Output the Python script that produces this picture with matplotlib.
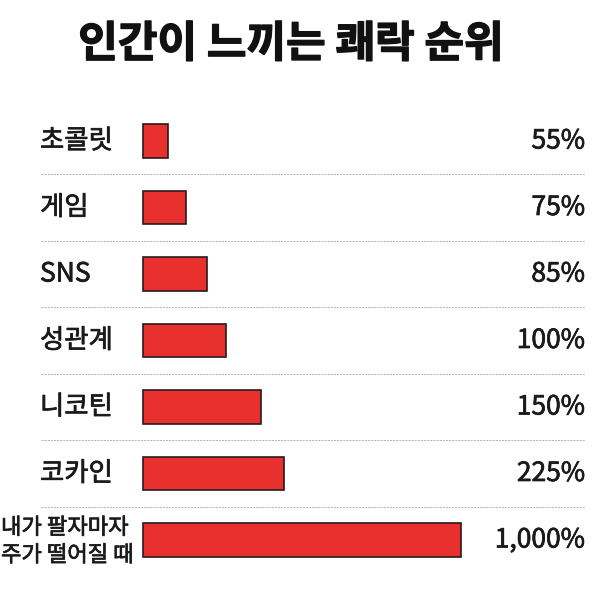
#!/usr/bin/env python3

import matplotlib
matplotlib.use('Agg')
import matplotlib.pyplot as plt
import matplotlib.patheffects as pe

plt.rcParams['font.family'] = ['Noto Sans CJK KR', 'DejaVu Sans']

title = '인간이 느끼는 쾌락 순위'
labels = ['초콜릿', '게임', 'SNS', '성관계', '니코틴', '코카인', '내가 팔자마자\n주가 떨어질 때']
value_labels = ['55%', '75%', '85%', '100%', '150%', '225%', '1,000%']
# drawn bar lengths as they appear in the picture (not proportional to the values)
bar_lengths = [25, 43, 64, 83, 118, 141, 318]


def main():
    fig = plt.figure(figsize=(6, 5.95), dpi=100)
    fig.patch.set_facecolor('white')
    # axes over the whole figure, x in pixels from bar start, y in rows
    ax = fig.add_axes([0, 0, 1, 1])
    row_px = 66.5
    ax.set_xlim(-143, 457)
    ax.set_ylim((595 - 141) / row_px, -141 / row_px)
    ax.axis('off')

    n = len(labels)
    ys = list(range(n))
    ax.barh(ys, bar_lengths, height=0.5, left=0, color='#e8302e',
            edgecolor='#2a1a1a', linewidth=1.2)

    # slight stroke to get the heavier weight of the original lettering
    heavy = [pe.withStroke(linewidth=0.5, foreground='#1a1a1a')]
    for i in range(n):
        if '\n' in labels[i]:
            ax.text(-142, i + 0.02, labels[i], ha='left', va='center',
                    fontsize=16, linespacing=1.25, color='#1a1a1a',
                    path_effects=heavy)
        else:
            ax.text(-103, i, labels[i], ha='left', va='center',
                    fontsize=19, color='#1a1a1a', path_effects=heavy)
        ax.text(442, i, value_labels[i], ha='right', va='center',
                fontsize=19, color='#1a1a1a', path_effects=heavy)

    for i in range(n - 1):
        ax.plot([-102, 442], [i + 0.5, i + 0.5], color='#b0b0b0',
                linewidth=0.7, linestyle=(0, (2, 1.2)))

    fig.text(0.485, 1 - 44 / 595, title, ha='center', va='center',
             fontsize=31, fontweight='bold', color='#111111',
             path_effects=[pe.withStroke(linewidth=1.0, foreground='#111111')])

    fig.savefig('out.png', dpi=100)


if __name__ == '__main__':
    main()
